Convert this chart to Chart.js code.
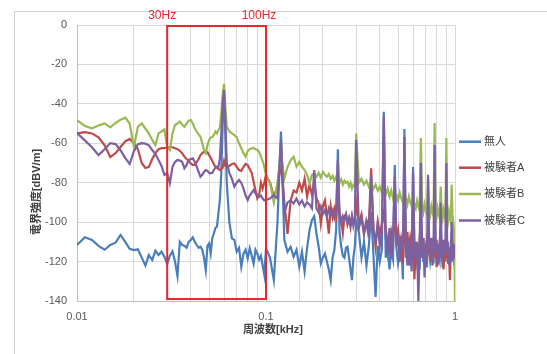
<!DOCTYPE html>
<html><head><meta charset="utf-8">
<script src="https://cdn.jsdelivr.net/npm/chart.js@4/dist/chart.umd.min.js"></script>
<style>html,body{margin:0;padding:0;background:#fff}#wrap{width:547px;height:354px;position:relative}</style>
</head><body><div id="wrap"><canvas id="c" width="547" height="354"></canvas></div>
<script>
// ---- data (frequency in Hz, level in dBV/m) ----
const freqHz = [
 10,11,12,13,14,15,16,17,18,19,20,21,22,23,24,25,26,27,28,29,30,31,32,33,34,35,36,37,38,39,40,41,42,43,44,45,46,47,48,49,50,51,52,53,54,55,56,57,58,59,60,61,62,
 64,66,68,70,72,74,76,78,80,82,84,86,88,90,92,94,96,98,100,
 105,110,115,120,125,130,135,140,145,150,155,160,165,170,175,180,185,190,195,200,
 205,210,215,220,225,230,235,240,245,250,255,260,265,270,275,280,285,290,295,300,
 310,320,330,340,350,360,370,380,390,400,
 410,420,430,440,450,460,470,480,490,500,
 510,520,530,540,550,560,570,580,590,600,
 610,620,630,640,650,660,670,680,690,700,
 710,720,730,740,750,760,770,780,790,800,
 810,820,830,840,850,860,870,880,890,900,
 910,920,930,940,950,960,970,980,990,1000
];
const seriesNames = ['無人','被験者A','被験者B','被験者C'];
const mujin = [
 -111.6,-107.7,-109,-112,-114,-111.6,-110.4,-106.5,-110,-113.5,-114.2,-113.8,-118,-122,-116.7,-119.2,-114.5,-116.7,-115,-117.5,-121.3,-117,-114.8,-120,-127.3,-110,-111.6,-112,-113,-110,-109,-107.7,-110,-111.6,-113,-112.5,-114,-118,-124.3,-112,-110.8,-115.8,-108,-105.7,-103,-102.3,-95.5,-88.8,-75,-50,-36,-55,-80,
 -100,-108.2,-109,-115,-113,-122.6,-116,-114,-118.4,-113.3,-117,-121,-114,-116,-119,-117,-122,-126.8,-113.3,
 -118,-129.4,-100,-54,-109,-115,-112.5,-117.5,-114,-122.6,-115,-125,-113,-104,-99,-97,-106,-112.5,-121,-118,
 -116,-120,-124,-129.4,-118,-114,-104,-63,-105,-112.5,-117,-118,-113,-112.5,-118,-124,-129.4,-118,-112.5,-100,
 -105,-118,-110,-122,-112,-95,-116,-138,-112,-120,
 -114,-44,-118,-112,-124,-115,-119,-71,-113,-121,
 -116,-110,-129,-52.8,-118,-112,-122,-115,-119,-72,
 -117,-121,-113,-119,-124,-100,-115,-120,-112,-118,
 -123,-105,-114,-120,-116,-112,-121,-95,-117,-113,
 -122,-116,-119,-108,-114,-123,-117,-112,-120,-98,
 -115,-119,-113,-121,-116,-105,-120,-114,-118,-122
];
const subjectA = [
 -55,-54.3,-55,-57,-61,-67,-65,-61.9,-59,-57.8,-60,-63,-70,-72.5,-72,-68,-65,-63,-62.5,-62.5,-62,-62,-62,-62.5,-63,-63.8,-65,-66.8,-68,-69,-70.2,-71,-71,-69.5,-68,-66,-65,-64.3,-64.3,-64.5,-66,-67.5,-69,-70.5,-72,-72.5,-73,-73.6,-73,-72.5,-69,-71.5,-72,
 -71.5,-70.5,-70.2,-72,-73.6,-74,-72,-70.5,-71,-73,-75,-79.5,-84,-88,-86,-80,-83,-80,-76,
 -80,-87,-82,-70,-90,-106,-89,-84,-85,-80,-84,-78,-87,-81,-86,-80,-88,-90.5,-100.7,-92,
 -89,-97,-105.8,-92,-97.4,-93,-97,-85,-95.6,-99,-105.5,-97,-96,-101,-98,-102.4,-97,-100,-99,-90,
 -101,-96,-105.5,-99,-102,-72.7,-103,-112.5,-100,-106,
 -101,-95,-104,-110,-114,-105,-110,-95,-109,-104,
 -113,-107,-121,-100,-110.6,-105,-116,-108,-112,-95,
 -129,-110,-118,-125.8,-108,-100,-114,-108,-120,-112.5,
 -109,-105,-116,-111,-120,-110,-118,-105,-114,-122.8,
 -112,-119,-110,-104,-117,-112,-124,-114,-118,-106,
 -115,-121,-116,-129.4,-114,-108,-118,-113,-122,-116
];
const subjectB = [
 -48.2,-51.2,-52.4,-51,-49.9,-51.9,-49.7,-48,-47,-50,-61.9,-51.6,-49.9,-52.5,-55,-58.3,-60.9,-55,-54,-53,-61.9,-63.4,-55,-50.7,-50,-49,-50.5,-51.6,-50,-48.5,-48.2,-50,-52.4,-54,-55.5,-56.7,-60,-63.4,-65,-61,-58.3,-57,-56.8,-55.8,-54.1,-55,-53.3,-52,-45,-35,-29.9,-42,-51.6,
 -54,-55,-55.8,-57,-60,-62.5,-65,-66.8,-64,-63,-62.6,-62.4,-63,-63.4,-64.5,-66.8,-69,-72,-76,
 -80,-90,-80,-65,-78,-72,-68.5,-66.8,-71.9,-69.4,-72,-73.6,-76,-80.3,-76,-75.2,-77,-75,-77.5,-74.4,
 -76,-77,-75.5,-78,-76.5,-79,-77,-78.6,-80,-78.3,-81,-79,-80,-79.5,-82,-80,-83,-81.2,-82,-55,
 -80,-78,-81,-79,-82,-80,-83,-81,-84,-82,
 -85,-83,-86,-83,-87,-84,-88,-85,-86,-89,
 -85,-88,-90,-86,-88,-91,-87,-90,-92,-88,
 -91,-93,-89,-92,-94,-57.3,-92,-95,-91,-94,
 -96,-78,-93,-96,-92,-95,-97,-49.7,-94,-97,
 -93,-96,-98,-82,-95,-98,-94,-97,-99,-57.3,
 -96,-99,-95,-98,-100,-81,-97,-100,-105,-140
];
const subjectC = [
 -54.8,-58.5,-62,-66,-63,-59.9,-60.4,-63.5,-67.5,-70.5,-64,-60.5,-59.9,-60.2,-61,-63.4,-65.5,-68.5,-71.5,-76,-75.2,-80.3,-72,-69.5,-68.5,-68.8,-69.4,-72.7,-71,-68.5,-68,-67.6,-69.5,-71.9,-74.5,-77,-76,-74.5,-73.6,-74,-75,-75.2,-75,-73.5,-72.5,-71.9,-72,-68,-55,-40,-33,-50,-70,
 -75,-78,-82,-80,-78.6,-80,-83,-86.5,-88.8,-86.5,-85,-83.7,-85.5,-86.5,-87.1,-86.5,-88,-89,-88.8,
 -88,-86.3,-88,-58.3,-95.5,-90,-89,-90.5,-88,-91,-89,-92,-90,-91,-93,-73.6,-93,-95,-92,-96,
 -94,-97.4,-93,-96,-94,-98,-95,-68.5,-96,-100,-97,-99,-96,-100.7,-98,-101,-97,-102,-99,-58.3,
 -103,-98,-106,-100,-108,-76,-104,-110,-101,-112,
 -105,-46,-108,-115,-103,-118,-107,-77,-112,-106,
 -120,-109,-114,-56.8,-111,-122,-108,-116,-125,-75,
 -112,-119,-110,-140,-113,-70,-118,-108,-128,-112,
 -120,-76,-110,-117,-108,-122,-112,-60.9,-115,-109,
 -121,-111,-118,-90,-113,-120,-109,-117,-112,-70,
 -116,-110,-121,-113,-118,-100,-112,-119,-111,-118
];
const xTickLabels = ['0.01','0.1','1'];
const yMin = -140, yMax = 0, yStep = 20;
const bandKHz = [0.03, 0.1];
const bandLabels = ['30Hz','100Hz'];
const bandBottom = -139;
const xTitle = '周波数[kHz]';
const yTitle = '電界強度[dBV/m]';

// ---- styles ----
const colors = ['#4a7ebb','#be4b48','#98b954','#7d60a0'];
const FONT = '"Liberation Sans", "Noto Sans CJK JP", sans-serif';
const allSeries = [mujin, subjectA, subjectB, subjectC];

const datasets = allSeries.map((vals, si) => ({
  label: seriesNames[si],
  data: vals.map((v, i) => ({x: freqHz[i] / 1000, y: v})),
  borderColor: colors[si],
  backgroundColor: colors[si],
  borderWidth: 2.2,
  pointRadius: 0,
  tension: 0,
  fill: false,
  order: 4 - si
}));

const decor = {
  id: 'decor',
  beforeDraw(chart) {
    const ctx = chart.ctx;
    ctx.save();
    ctx.fillStyle = '#fff';
    ctx.fillRect(0, 0, chart.width, chart.height);
    ctx.strokeStyle = '#d0d0d0';
    ctx.lineWidth = 1;
    ctx.strokeRect(14.5, 11.5, 600, 400);
    ctx.restore();
  },
  afterDatasetsDraw(chart) {
    const ctx = chart.ctx, xs = chart.scales.x, ys = chart.scales.y;
    const x1 = xs.getPixelForValue(bandKHz[0]), x2 = xs.getPixelForValue(bandKHz[1]);
    const y1 = ys.getPixelForValue(yMax), y2 = ys.getPixelForValue(bandBottom);
    ctx.save();
    ctx.strokeStyle = '#e8262b';
    ctx.lineWidth = 2;
    ctx.strokeRect(x1, y1 + 1, x2 - x1, y2 - y1 - 1);
    ctx.fillStyle = '#e8262b';
    ctx.font = '12px ' + FONT;
    ctx.textAlign = 'center';
    ctx.textBaseline = 'middle';
    ctx.fillText(bandLabels[0], x1 - 5, 16);
    ctx.fillText(bandLabels[1], x2 - 7, 16);
    ctx.restore();
  },
  afterDraw(chart) {
    const ctx = chart.ctx, area = chart.chartArea;
    ctx.save();
    ctx.fillStyle = '#404040';
    ctx.font = 'bold 11px ' + FONT;
    ctx.textAlign = 'center';
    ctx.textBaseline = 'middle';
    ctx.fillText(xTitle, (area.left + area.right) / 2 + 7, 330);
    ctx.translate(37, 192);
    ctx.rotate(-Math.PI / 2);
    ctx.fillText(yTitle, 0, 0);
    ctx.restore();
    ctx.save();
    const ly = [141.7, 167.7, 194, 220.5];
    ctx.font = '11px ' + FONT;
    ctx.textAlign = 'left';
    ctx.textBaseline = 'middle';
    seriesNames.forEach((n, i) => {
      ctx.strokeStyle = colors[i];
      ctx.lineWidth = 2.5;
      ctx.beginPath();
      ctx.moveTo(459, ly[i]);
      ctx.lineTo(481, ly[i]);
      ctx.stroke();
      ctx.fillStyle = '#404040';
      ctx.fillText(n, 484, ly[i]);
    });
    ctx.restore();
  }
};

new Chart(document.getElementById('c'), {
  type: 'line',
  data: {datasets},
  plugins: [decor],
  options: {
    responsive: false,
    animation: false,
    devicePixelRatio: 1,
    layout: {padding: {left: 0, right: 92, top: 25, bottom: 0}},
    plugins: {legend: {display: false}, tooltip: {enabled: false}},
    scales: {
      x: {
        type: 'logarithmic',
        min: 0.01, max: 1,
        grid: {color: '#d9d9d9', drawTicks: false},
        border: {color: '#bfbfbf'},
        ticks: {
          autoSkip: false, maxRotation: 0, padding: 9,
          color: '#595959', font: {size: 11, family: FONT},
          callback(v) {
            const l = Math.log10(v);
            if (Math.abs(l - Math.round(l)) < 1e-6) {
              const idx = Math.round(l) + 2;
              return xTickLabels[idx] !== undefined ? xTickLabels[idx] : '';
            }
            return '';
          }
        },
        afterFit(s) { s.height = 53; }
      },
      y: {
        min: yMin, max: yMax,
        grid: {color: '#d9d9d9', drawTicks: false},
        border: {color: '#bfbfbf'},
        ticks: {stepSize: yStep, padding: 10, color: '#595959', font: {size: 11, family: FONT}},
        afterFit(s) { s.width = 77; }
      }
    }
  }
});
</script>
</body></html>
